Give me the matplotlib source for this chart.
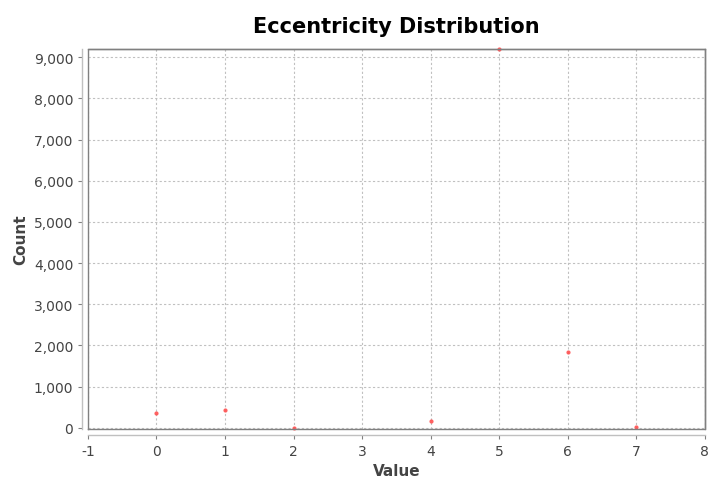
import matplotlib
matplotlib.use('Agg')
import matplotlib.pyplot as plt
from matplotlib.ticker import FuncFormatter

plt.rcParams['axes.unicode_minus'] = False

# Eccentricity values and counts
values = [0, 1, 2, 4, 5, 6, 7]
counts = [365, 440, 5, 170, 9200, 1830, 30]

x_ticks = list(range(-1, 9))
y_ticks = list(range(0, 10000, 1000))

fig = plt.figure(figsize=(7.09, 4.81), dpi=100)
ax = fig.add_axes([0.124, 0.106, 0.870, 0.790])

ax.scatter(values, counts, s=9, color='#ff5050', alpha=0.9, linewidths=0, zorder=3, clip_on=False)

ax.set_xlim(-1, 8)
ax.set_ylim(-30, 9200)
ax.set_xticks(x_ticks)
ax.set_yticks(y_ticks)
ax.yaxis.set_major_formatter(FuncFormatter(lambda v, p: f'{int(v):,}'))

ax.grid(True, color='#c0c0c0', linestyle=(0, (2, 2)), linewidth=0.8)
ax.set_axisbelow(True)
for side in ['top', 'right', 'left', 'bottom']:
    ax.spines[side].set_color('#808080')
    ax.spines[side].set_linewidth(1.0)
ax.spines['left'].set_position(('outward', 4))
ax.spines['bottom'].set_position(('outward', 4))
ax.spines['left'].set_color('#c0c0c0')
ax.spines['bottom'].set_color('#c0c0c0')
# plot border drawn separately so the axes can sit slightly outside it
ax.plot([0, 1, 1, 0, 0], [0, 0, 1, 1, 0], transform=ax.transAxes, color='#808080', lw=1.0, clip_on=False, zorder=4)

ax.tick_params(axis='both', colors='#808080', labelcolor='#444444', labelsize=10, length=3)

ax.set_title('Eccentricity Distribution', fontsize=15, fontweight='bold', pad=12)
ax.set_xlabel('Value', fontsize=11, fontweight='bold', color='#444444')
ax.set_ylabel('Count', fontsize=11, fontweight='bold', color='#444444')

fig.savefig('out.png', dpi=100)
